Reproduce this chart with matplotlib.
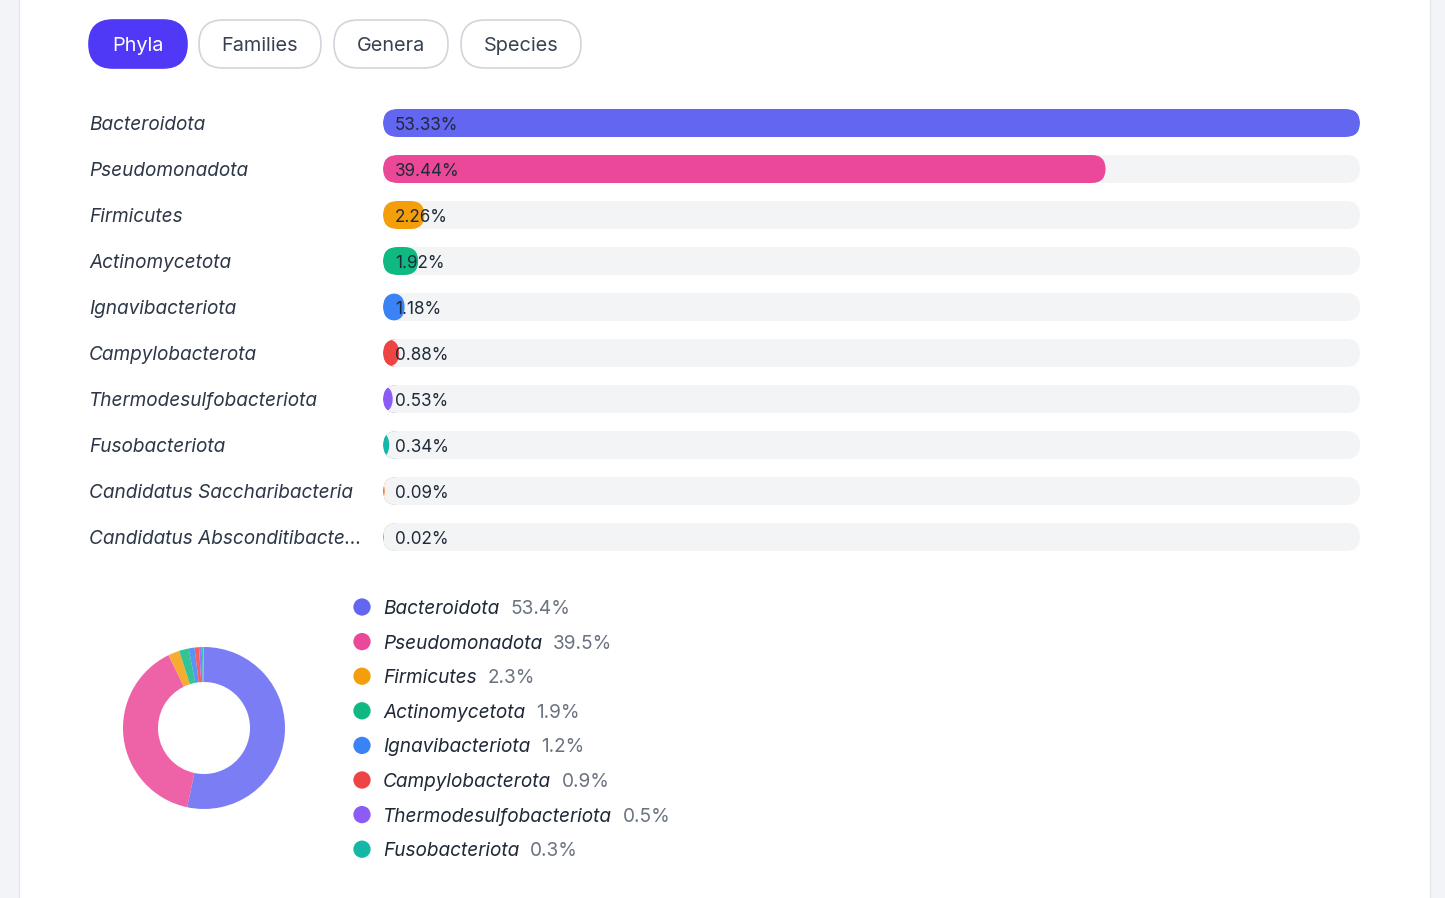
import matplotlib
matplotlib.use("Agg")
import matplotlib.pyplot as plt
from matplotlib.patches import FancyBboxPatch, Rectangle

plt.rcParams["font.family"] = ["Inter", "DejaVu Sans"]

# data
tabs = ["Phyla", "Families", "Genera", "Species"]
phyla = ["Bacteroidota", "Pseudomonadota", "Firmicutes", "Actinomycetota",
         "Ignavibacteriota", "Campylobacterota", "Thermodesulfobacteriota",
         "Fusobacteriota", "Candidatus Saccharibacteria",
         "Candidatus Absconditibacte..."]
shares = [53.33, 39.44, 2.26, 1.92, 1.18, 0.88, 0.53, 0.34, 0.09, 0.02]
colors = ["#6366f1", "#ec4899", "#f59e0b", "#10b981", "#3b82f6", "#ef4444",
          "#8b5cf6", "#14b8a6", "#f97316", "#84cc16"]
legend_names = phyla[:8]
legend_pcts = [53.4, 39.5, 2.3, 1.9, 1.2, 0.9, 0.5, 0.3]

W, H = 1445, 898
fig = plt.figure(figsize=(W / 100, H / 100), dpi=100)
fig.patch.set_facecolor("#f3f4f8")
ax = fig.add_axes([0, 0, 1, 1])
ax.set_xlim(0, W)
ax.set_ylim(H, 0)
ax.axis("off")

# white card
ax.add_patch(Rectangle((19, -5), 1411, H + 10, facecolor="white",
                       edgecolor="#e5e7eb", lw=1))

# tab pills
tab_x = [89, 199, 334, 461]
tab_w = [98, 122, 114, 120]
for i, (t, x0, w) in enumerate(zip(tabs, tab_x, tab_w)):
    active = i == 0
    ax.add_patch(FancyBboxPatch((x0, 20), w, 48,
                                boxstyle="round,pad=0,rounding_size=24",
                                facecolor="#4f39f6" if active else "white",
                                edgecolor="#4f39f6" if active else "#d1d5db",
                                lw=1.2))
    ax.text(x0 + w / 2, 46, t, ha="center", va="center", fontsize=14.3,
            color="white" if active else "#374151")

# horizontal bars
bar_x0, bar_x1 = 383, 1360
bar_h = 28
scale = (bar_x1 - bar_x0) / max(shares)
for i, (name, v, c) in enumerate(zip(phyla, shares, colors)):
    yc = 123 + i * 46
    ax.text(89, yc + 2, name, ha="left", va="center", fontsize=13.7,
            style="italic", color="#2d3748")
    track = FancyBboxPatch((bar_x0, yc - bar_h / 2), bar_x1 - bar_x0, bar_h,
                           boxstyle="round,pad=0,rounding_size=14",
                           facecolor="#f3f4f6", edgecolor="none")
    ax.add_patch(track)
    fill = FancyBboxPatch((bar_x0, yc - bar_h / 2), max(v * scale, 1), bar_h,
                          boxstyle="round,pad=0,rounding_size=14",
                          facecolor=c, edgecolor="none")
    ax.add_patch(fill)
    fill.set_clip_path(track)
    ax.text(bar_x0 + 12, yc + 2, f"{v:.2f}%", ha="left", va="center",
            fontsize=12.3, color="#1f2937")

# donut
cx, cy, box = 204, 728, 180
dax = fig.add_axes([(cx - box / 2) / W, (H - cy - box / 2) / H, box / W, box / H])
dax.pie(shares, colors=colors, startangle=90, counterclock=False,
        radius=81 / 90, wedgeprops=dict(width=35 / 90, linewidth=0, alpha=0.85))
dax.set_xlim(-1, 1)
dax.set_ylim(-1, 1)
dax.set_aspect("equal")
dax.axis("off")

# legend
for i, (name, p, c) in enumerate(zip(legend_names, legend_pcts, colors)):
    yc = 607 + i * 34.6
    ax.scatter([362], [yc], s=155, color=c, edgecolors="none")
    t = ax.text(383, yc + 2, name, ha="left", va="center", fontsize=13.7,
                style="italic", color="#1f2937")
    ax.annotate(f"{p:.1f}%", xy=(1, 0.5), xycoords=t, xytext=(8, 0),
                textcoords="offset points", ha="left", va="center",
                fontsize=13.7, color="#6b7280")

fig.savefig("out.png", dpi=100, facecolor=fig.get_facecolor())
